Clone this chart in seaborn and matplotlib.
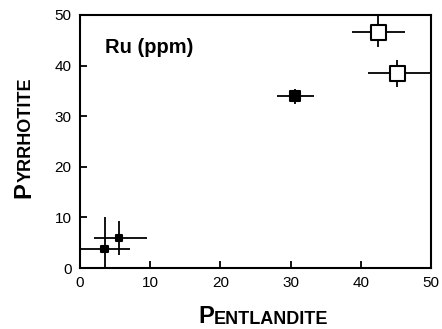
import matplotlib
matplotlib.use("Agg")
import matplotlib.pyplot as plt
import seaborn as sns
import pandas as pd
import numpy as np

# Data
pentlandite = [3.5, 5.6, 30.6, 42.5, 45.2]
pyrrhotite = [3.8, 5.9, 34.0, 46.6, 38.5]
x_low = [0.0, 2.0, 28.0, 38.7, 41.0]
x_high = [7.1, 9.6, 33.4, 46.3, 49.8]
y_low = [0.0, 2.5, 32.4, 43.6, 35.7]
y_high = [10.0, 9.2, 35.3, 51.0, 41.1]
fill_kind = ["filled", "filled", "filled", "open", "open"]
size_kind = ["small", "small", "medium", "large", "large"]
x_ticks = [0, 10, 20, 30, 40, 50]
y_ticks = [0, 10, 20, 30, 40, 50]

df = pd.DataFrame({"Pentlandite": pentlandite, "Pyrrhotite": pyrrhotite,
                   "fill": fill_kind, "size": size_kind})

sns.set_theme(style="white")
plt.rcParams["font.family"] = ["Liberation Sans", "DejaVu Sans"]
plt.rcParams["text.color"] = "black"

fig = plt.figure(figsize=(4.42, 3.29), dpi=100)
ax = fig.add_axes([80/442, 1-268/329, (431-80)/442, (268-15)/329])

px = np.array(pentlandite); py = np.array(pyrrhotite)
xerr = [px - np.array(x_low), np.array(x_high) - px]
yerr = [py - np.array(y_low), np.array(y_high) - py]
ax.errorbar(px, py, xerr=xerr, yerr=yerr, fmt="none", ecolor="black",
            elinewidth=1.3, capsize=0, zorder=1, clip_on=True)

sns.scatterplot(data=df, x="Pentlandite", y="Pyrrhotite", hue="fill",
                palette={"filled": "black", "open": "white"},
                size="size", sizes={"small": 20, "medium": 52, "large": 115},
                marker="s", edgecolor="black", linewidth=1.5,
                legend=False, ax=ax, zorder=3)

ax.set_xlim(0, 50)
ax.set_ylim(0, 50)
ax.set_xticks(x_ticks)
ax.set_yticks(y_ticks)
ax.tick_params(direction="in", length=5, width=1.3, labelsize=11,
               colors="black", pad=6, top=False, right=False,
               bottom=True, left=True)
for s in ax.spines.values():
    s.set_color("black")
    s.set_linewidth(1.5)
ax.set_xlabel("")
ax.set_ylabel("")

ax.text(0.07, 0.87, "Ru (ppm)", transform=ax.transAxes, fontsize=14.5,
        fontweight="bold", ha="left", va="center", color="black")

# Small-caps axis labels
t1 = fig.text(198/442, 1-322.7/329, "P", fontsize=17, fontweight="bold",
              ha="left", va="baseline", color="black")
ax.annotate("ENTLANDITE", xy=(1, 0), xycoords=t1, fontsize=13,
            fontweight="bold", ha="left", va="bottom", color="black")

t2 = fig.text(35/442, 1-198/329, "P", fontsize=17, fontweight="bold",
              ha="left", va="bottom", rotation=90, rotation_mode="anchor",
              color="black")
ax.annotate("YRRHOTITE", xy=(1, 1), xycoords=t2, fontsize=13,
            fontweight="bold", ha="left", va="bottom", rotation=90,
            rotation_mode="anchor", color="black")

fig.savefig("out.png", dpi=100)
